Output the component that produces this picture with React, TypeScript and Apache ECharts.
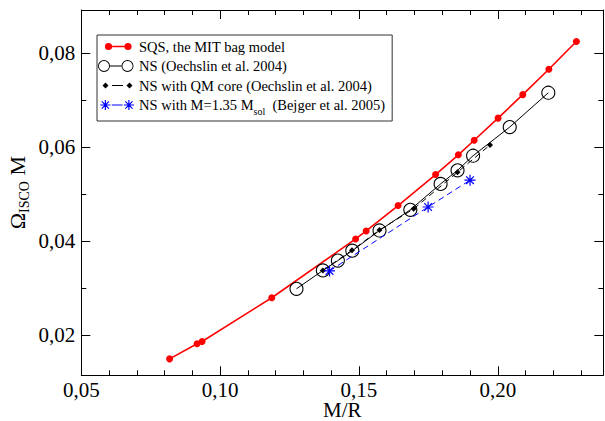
import React, { useEffect, useRef } from 'react';
import * as echarts from 'echarts';

// ---- data ----
const sqsX = [0.0818, 0.0917, 0.0935, 0.1186, 0.1488, 0.1526, 0.1641, 0.1776, 0.1858, 0.1915, 0.2001, 0.2090, 0.2184, 0.2283];
const sqsY = [0.0149, 0.0181, 0.0186, 0.0279, 0.0404, 0.0421, 0.0475, 0.0541, 0.0583, 0.0614, 0.0661, 0.0711, 0.0765, 0.0824];
const nsX = [0.1275, 0.1370, 0.1424, 0.1476, 0.1574, 0.1685, 0.1794, 0.1855, 0.1911, 0.2043, 0.2182];
const nsY = [0.0298, 0.0337, 0.0358, 0.0379, 0.0422, 0.0466, 0.0521, 0.0550, 0.0581, 0.0642, 0.0715];
const qmX = [0.1370, 0.1475, 0.1574, 0.1697, 0.1855, 0.1972];
const qmY = [0.0337, 0.0380, 0.0423, 0.0468, 0.0546, 0.0604];
const bejX = [0.1394, 0.1749, 0.1900];
const bejY = [0.0336, 0.0472, 0.0529];

const seriesNames = [
  'SQS, the MIT bag model',
  'NS (Oechslin et al. 2004)',
  'NS with QM core (Oechslin et al. 2004)',
  'NS with M=1.35 Msol (Bejger et al. 2005)',
];

const xMajorTicks = [0.05, 0.10, 0.15, 0.20];
const xMinorTicks = [0.06, 0.07, 0.08, 0.09, 0.11, 0.12, 0.13, 0.14, 0.16, 0.17, 0.18, 0.19, 0.21, 0.22, 0.23];
const yMajorTicks = [0.02, 0.04, 0.06, 0.08];
const yMinorTicks = [0.03, 0.05, 0.07];

const X_MIN = 0.05, X_MAX = 0.238;
const Y_MIN = 0.0114, Y_MAX = 0.0891;

const FONT = 'Liberation Serif';
const STAR = 'path://M0 10L20 10M10 0L10 20M3 3L17 17M17 3L3 17';

const zip = (xs: number[], ys: number[]) => xs.map((x, i) => [x, ys[i]]);
const fmt = (v: number) => v.toFixed(2).replace('.', ',');

// ---- legend icon geometry (36 x 14 box) ----
const IW = 36, IH = 14, CY = 7;
const frame = `M0 0L0.01 0L0 0Z M${IW} ${IH}L${IW - 0.01} ${IH}L${IW} ${IH}Z`;
const circ = (cx: number, r: number, rev = false) =>
  rev
    ? `M${cx - r} ${CY}A${r} ${r} 0 1 1 ${cx + r} ${CY}A${r} ${r} 0 1 1 ${cx - r} ${CY}Z`
    : `M${cx - r} ${CY}A${r} ${r} 0 1 0 ${cx + r} ${CY}A${r} ${r} 0 1 0 ${cx - r} ${CY}Z`;
const hbar = (x0: number, x1: number, t: number) =>
  `M${x0} ${CY - t / 2}L${x1} ${CY - t / 2}L${x1} ${CY + t / 2}L${x0} ${CY + t / 2}Z`;
const diamond = (cx: number, r: number) =>
  `M${cx} ${CY - r}L${cx + r} ${CY}L${cx} ${CY + r}L${cx - r} ${CY}Z`;
const bar = (cx: number, ang: number, r: number, t: number) => {
  const c = Math.cos(ang), s = Math.sin(ang);
  const px = -s * t / 2, py = c * t / 2;
  const ax = cx - c * r, ay = CY - s * r, bx = cx + c * r, by = CY + s * r;
  return `M${ax + px} ${ay + py}L${bx + px} ${by + py}L${bx - px} ${by - py}L${ax - px} ${ay - py}Z`;
};
const star = (cx: number) =>
  [0, Math.PI / 4, Math.PI / 2, (3 * Math.PI) / 4].map((a) => bar(cx, a, 5.2, 1.2)).join(' ');

const iconSqs = 'path://' + frame + circ(10.5, 3.6) + circ(30, 3.6) + hbar(14.1, 26.4, 1.6);
const iconNs = 'path://' + frame + circ(6, 6) + circ(6, 5.1, true) + circ(29.5, 6) + circ(29.5, 5.1, true) + hbar(12, 23.5, 1);
const iconQm = 'path://' + frame + diamond(7.5, 3) + diamond(31.5, 3) + hbar(14, 25, 1);
const iconBej = 'path://' + frame + star(7.5) + star(31.5) + hbar(14, 25, 1);

export default function App() {
  const ref = useRef<HTMLDivElement>(null);
  useEffect(() => {
    if (!ref.current) return;
    const chart = echarts.init(ref.current, undefined, { renderer: 'svg' });
    const axisLine = { show: true, lineStyle: { color: '#000', width: 1 } };
    const tick = (vals: number[], len: number) => ({
      show: true, inside: true, length: len, customValues: vals,
      lineStyle: { color: '#000', width: 1 },
    });
    const xBase = { type: 'value', min: X_MIN, max: X_MAX, splitLine: { show: false } };
    const yBase = { type: 'value', min: Y_MIN, max: Y_MAX, splitLine: { show: false } };
    const label = { fontFamily: FONT, fontSize: 21, color: '#000' };

    chart.setOption({
      animation: false,
      backgroundColor: '#fff',
      textStyle: { fontFamily: FONT, color: '#000' },
      grid: { left: 81.3, right: 1.7, top: 10, bottom: 45.7, containLabel: false, outerBoundsMode: 'none' },
      xAxis: [
        {
          ...xBase, position: 'bottom', axisLine, axisTick: tick(xMajorTicks, 9),
          axisLabel: { ...label, margin: 4, customValues: xMajorTicks, formatter: fmt },
          name: 'M/R', nameLocation: 'middle', nameGap: 24, nameMoveOverlap: false,
          nameTextStyle: { fontFamily: FONT, fontSize: 21, color: '#000', lineHeight: 21 },
        },
        { ...xBase, position: 'bottom', axisLine: { show: false }, axisTick: tick(xMinorTicks, 5), axisLabel: { show: false } },
        { ...xBase, position: 'top', axisLine, axisTick: tick(xMajorTicks, 9), axisLabel: { show: false } },
        { ...xBase, position: 'top', axisLine: { show: false }, axisTick: tick(xMinorTicks, 5), axisLabel: { show: false } },
      ],
      yAxis: [
        {
          ...yBase, position: 'left', axisLine, axisTick: tick(yMajorTicks, 9),
          axisLabel: { ...label, margin: 6, customValues: yMajorTicks, formatter: fmt },
          name: '{a|Ω}{s|ISCO}{a| M}', nameLocation: 'middle', nameGap: 50, nameRotate: 90, nameMoveOverlap: false,
          nameTextStyle: {
            fontFamily: FONT, color: '#000',
            rich: {
              a: { fontFamily: FONT, fontSize: 22, color: '#000', lineHeight: 28, verticalAlign: 'middle' },
              s: { fontFamily: FONT, fontSize: 14, color: '#000', lineHeight: 28, verticalAlign: 'bottom' },
            },
          },
        },
        { ...yBase, position: 'left', axisLine: { show: false }, axisTick: tick(yMinorTicks, 5), axisLabel: { show: false } },
        { ...yBase, position: 'right', axisLine, axisTick: tick(yMajorTicks, 9), axisLabel: { show: false } },
        { ...yBase, position: 'right', axisLine: { show: false }, axisTick: tick(yMinorTicks, 5), axisLabel: { show: false } },
      ],
      legend: {
        left: 97, top: 35, orient: 'vertical',
        backgroundColor: '#fff',
        borderColor: '#333', borderWidth: 1, padding: [4, 7, 5, 1],
        itemWidth: IW, itemHeight: IH, itemGap: 4.5,
        symbolKeepAspect: true,
        data: [
          { name: seriesNames[0], icon: iconSqs, itemStyle: { color: '#ff0000', borderWidth: 0 } },
          { name: seriesNames[1], icon: iconNs, itemStyle: { color: '#000', borderWidth: 0 } },
          { name: seriesNames[2], icon: iconQm, itemStyle: { color: '#000', borderWidth: 0 } },
          { name: seriesNames[3], icon: iconBej, itemStyle: { color: '#0000ff', borderWidth: 0 } },
        ],
        textStyle: {
          fontFamily: FONT, fontSize: 14.5, color: '#000',
          rich: {
            n: { fontFamily: FONT, fontSize: 14.5, color: '#000', lineHeight: 16 },
            sub: { fontFamily: FONT, fontSize: 10, color: '#000', lineHeight: 22, verticalAlign: 'bottom' },
          },
        },
        formatter: (name: string) => {
          if (name === seriesNames[3]) return '{n|NS with M=1.35 M}{sub|sol}{n|  (Bejger et al. 2005)}';
          return name;
        },
      },
      series: [
        {
          name: seriesNames[0], type: 'line', data: zip(sqsX, sqsY),
          symbol: 'circle', symbolSize: 7,
          itemStyle: { color: '#ff0000' }, lineStyle: { color: '#ff0000', width: 1.6 },
          z: 2,
        },
        {
          name: seriesNames[1], type: 'line', data: zip(nsX, nsY),
          symbol: 'circle', symbolSize: 13,
          itemStyle: { color: 'rgba(0,0,0,0)', borderColor: '#000', borderWidth: 1.1 },
          lineStyle: { color: '#000', width: 1 },
          z: 3,
        },
        {
          name: seriesNames[2], type: 'line', data: zip(qmX, qmY),
          symbol: 'diamond', symbolSize: 6,
          itemStyle: { color: '#000' }, lineStyle: { color: '#000', width: 1, type: [6, 4] },
          z: 4,
        },
        {
          name: seriesNames[3], type: 'line', data: zip(bejX, bejY),
          symbol: STAR, symbolSize: 11,
          itemStyle: { color: 'rgba(0,0,0,0)', borderColor: '#0000ff', borderWidth: 1.2 },
          lineStyle: { color: '#0000ff', width: 1, type: [6, 4] },
          z: 5,
        },
      ],
    });
    return () => chart.dispose();
  }, []);
  return <div ref={ref} style={{ position: 'fixed', left: 0, top: 0, width: 605, height: 421 }} />;
}
